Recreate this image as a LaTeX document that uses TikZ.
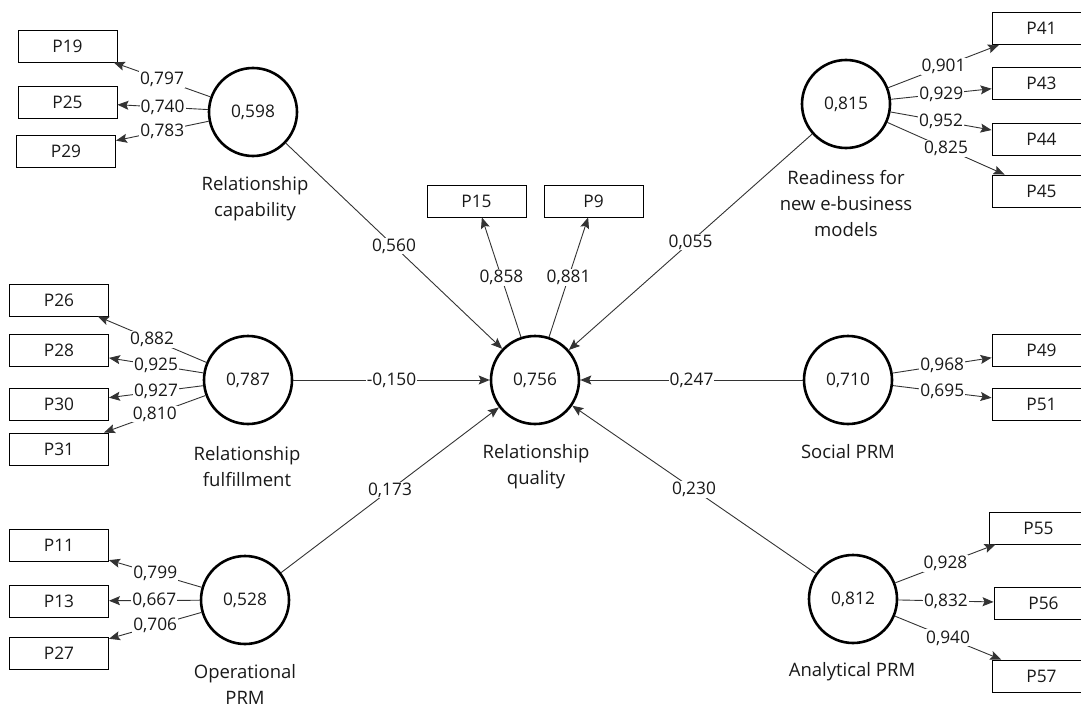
\documentclass[tikz,border=0pt]{standalone}
\usepackage{fontspec}
\setmainfont{Open Sans}
\usetikzlibrary{arrows.meta}
\begin{document}
\begin{tikzpicture}[x=1pt,y=-1pt,
  every node/.style={font=\fontsize{17.3}{26}\selectfont, text=black!90},
  lv/.style={circle, draw, line width=2.6pt, minimum size=88pt, inner sep=0pt},
  ind/.style={rectangle, draw, line width=0.9pt, minimum width=99pt, minimum height=32pt, inner sep=0pt},
  lnk/.style={draw=black!80, line width=0.9pt, -{Stealth[length=11pt,width=9pt,inset=2pt]}},
  lbl/.style={fill=white, inner sep=1pt},
  lvname/.style={align=center, inner sep=0pt, font=\fontsize{18.5}{26}\selectfont}]
\useasboundingbox (0,0) rectangle (1081,706);
\clip (0,0) rectangle (1081,706);

% latent variables
\node[lv] (rc) at (253,112) {0,598};
\node[lv] (rf) at (248,380) {0,787};
\node[lv] (op) at (245,600) {0,528};
\node[lv] (rq) at (535,380) {0,756};
\node[lv] (rd) at (846,104) {0,815};
\node[lv] (so) at (848,380) {0,710};
\node[lv] (an) at (853,599) {0,812};

% construct names
\node[lvname] (rcn) at (255,199) {Relationship\\capability};
\node[lvname] (rfn) at (247,467) {Relationship\\fulfillment};
\node[lvname] (opn) at (245,684) {Operational\\PRM};
\node[lvname] (rqn) at (536,467) {Relationship\\quality};
\node[lvname] (rdn) at (846,204) {Readiness for\\new e-business\\models};
\node[lvname] (son) at (848,452) {Social PRM};
\node[lvname] (ann) at (852,672) {Analytical PRM};

% indicators
\node[ind] (p19) at (67.5,46) {P19};
\node[ind] (p25) at (67.5,102) {P25};
\node[ind] (p29) at (66,151) {P29};
\node[ind] (p26) at (59,300) {P26};
\node[ind] (p28) at (59,350) {P28};
\node[ind] (p30) at (59,404) {P30};
\node[ind] (p31) at (59,449) {P31};
\node[ind] (p11) at (59,545.5) {P11};
\node[ind] (p13) at (59,601) {P13};
\node[ind] (p27) at (59,653) {P27};
\node[ind] (p15) at (476.5,201) {P15};
\node[ind] (p9) at (593.5,201) {P9};
\node[ind] (p41) at (1041.5,28.5) {P41};
\node[ind] (p43) at (1041.5,83.5) {P43};
\node[ind] (p44) at (1041.5,139) {P44};
\node[ind] (p45) at (1041.5,191) {P45};
\node[ind] (p49) at (1041.5,350) {P49};
\node[ind] (p51) at (1041.5,404) {P51};
\node[ind] (p55) at (1038.5,528) {P55};
\node[ind] (p56) at (1043.5,603) {P56};
\node[ind] (p57) at (1041.5,676) {P57};

% structural paths
\draw[lnk] (rc) -- node[lbl] {0,560} (rq);
\draw[lnk] (rf) -- node[lbl] {-0,150} (rq);
\draw[lnk] (op) -- node[lbl] {0,173} (rq);
\draw[lnk] (rd) -- node[lbl] {0,055} (rq);
\draw[lnk] (so) -- node[lbl] {0,247} (rq);
\draw[lnk] (an) -- node[lbl] {0,230} (rq);

% outer loadings
\draw[lnk] (rc) -- node[lbl] {0,797} (p19);
\draw[lnk] (rc) -- node[lbl] {0,740} (p25);
\draw[lnk] (rc) -- node[lbl] {0,783} (p29);
\draw[lnk] (rf) -- node[lbl] {0,882} (p26);
\draw[lnk] (rf) -- node[lbl] {0,925} (p28);
\draw[lnk] (rf) -- node[lbl] {0,927} (p30);
\draw[lnk] (rf) -- node[lbl] {0,810} (p31);
\draw[lnk] (op) -- node[lbl] {0,799} (p11);
\draw[lnk] (op) -- node[lbl] {0,667} (p13);
\draw[lnk] (op) -- node[lbl] {0,706} (p27);
\draw[lnk] (rq) -- node[lbl] {0,858} (p15);
\draw[lnk] (rq) -- node[lbl] {0,881} (p9);
\draw[lnk] (rd) -- node[lbl] {0,901} (p41);
\draw[lnk] (rd) -- node[lbl] {0,929} (p43);
\draw[lnk] (rd) -- node[lbl] {0,952} (p44);
\draw[lnk] (rd) -- node[lbl] {0,825} (p45);
\draw[lnk] (so) -- node[lbl] {0,968} (p49);
\draw[lnk] (so) -- node[lbl] {0,695} (p51);
\draw[lnk] (an) -- node[lbl] {0,928} (p55);
\draw[lnk] (an) -- node[lbl] {0,832} (p56);
\draw[lnk] (an) -- node[lbl] {0,940} (p57);
\end{tikzpicture}
\end{document}
